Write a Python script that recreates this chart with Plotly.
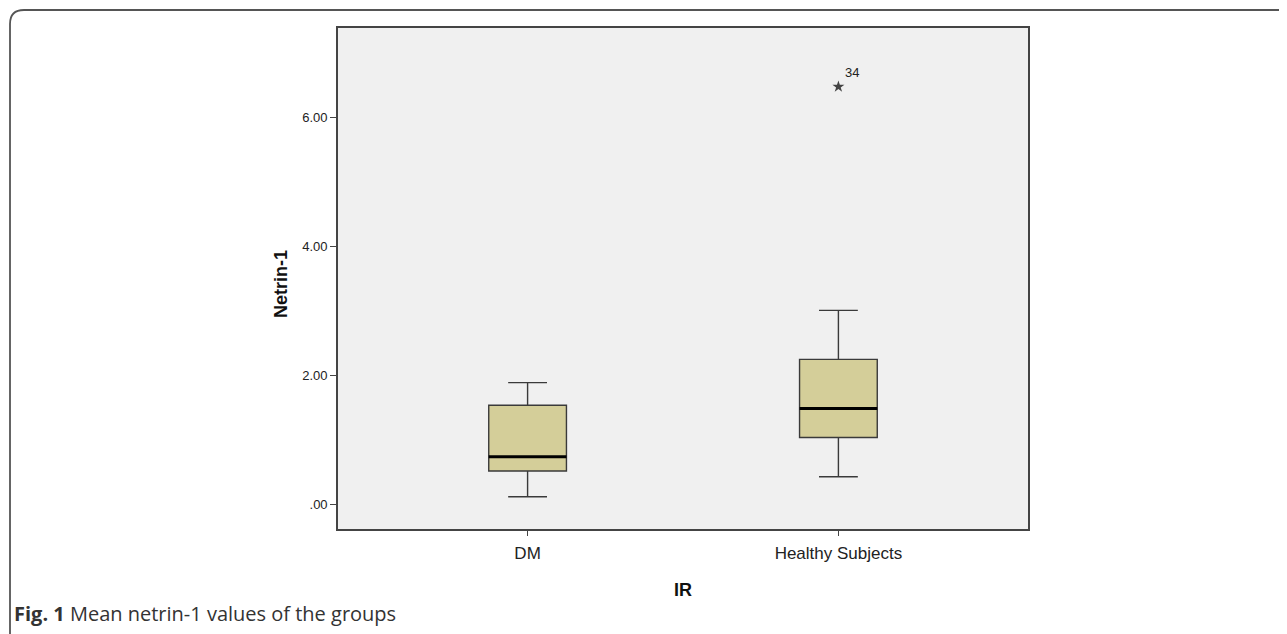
import plotly.graph_objects as go

# ---- data ----
categories = ["DM", "Healthy Subjects"]
q1 = [0.52, 1.04]
median = [0.74, 1.49]
q3 = [1.54, 2.25]
lower_whisker = [0.12, 0.43]
upper_whisker = [1.89, 3.01]
outlier_group = ["Healthy Subjects"]
outlier_value = [6.48]
outlier_label = ["34"]
y_tickvals = [0, 2, 4, 6]
y_ticktext = [".00", "2.00", "4.00", "6.00"]

# ---- layout geometry (target pixels; page body adds an 8px offset) ----
OFF = 8
W, H = 1287 - OFF, 634 - OFF
L, R, T, B = 338 - OFF, 1028 - OFF, 28 - OFF, 529 - OFF
pw, ph = R - L, B - T
BOX_W = 0.25
SANS = "Liberation Sans, Arial"

def px(X):
    return (X - OFF - L) / pw

def py(Y):
    return (B - (Y - OFF)) / ph

xpos = list(range(len(categories)))
fill = "rgb(212,206,153)"
edge = "#3a3a3a"

fig = go.Figure()
fig.add_trace(go.Box(
    x=xpos, q1=q1, median=median, q3=q3,
    lowerfence=lower_whisker, upperfence=upper_whisker,
    fillcolor=fill, line=dict(color=edge, width=1.4),
    width=BOX_W, whiskerwidth=0.5, boxpoints=False,
    hoverinfo="skip", showlegend=False,
))
for xi, m in zip(xpos, median):
    fig.add_trace(go.Scatter(
        x=[xi - BOX_W / 2, xi + BOX_W / 2], y=[m, m], mode="lines",
        line=dict(color="black", width=3), showlegend=False, hoverinfo="skip",
    ))
ox = [categories.index(g) for g in outlier_group]
fig.add_trace(go.Scatter(
    x=ox, y=outlier_value, mode="markers+text",
    marker=dict(symbol="star", size=9, color="#444", line=dict(width=0)),
    text=outlier_label, textposition="top right",
    textfont=dict(family=SANS, size=13, color="#222"),
    showlegend=False, hoverinfo="skip",
))

frame = (f"M {px(1287)},{py(10)} L {px(24)},{py(10)} "
         f"Q {px(10)},{py(10)} {px(10)},{py(24)} L {px(10)},{py(640)}")

fig.update_layout(
    width=W, height=H,
    margin=dict(l=L, r=W - R, t=T, b=H - B),
    paper_bgcolor="white", plot_bgcolor="#f0f0f0",
    font=dict(family=SANS, size=12, color="#222"),
    xaxis=dict(
        range=[-0.61, 1.61], tickvals=xpos, ticktext=categories,
        showgrid=False, zeroline=False, showline=True, mirror=True,
        linecolor="#444", linewidth=1.6, ticks="outside", ticklen=5,
        tickcolor="#444", tickwidth=1.3, ticklabelstandoff=3,
        tickfont=dict(family=SANS, size=17, color="#222"),
    ),
    yaxis=dict(
        range=[-0.38, 7.39], tickvals=y_tickvals, ticktext=y_ticktext,
        showgrid=False, zeroline=False, showline=True, mirror=True,
        linecolor="#444", linewidth=1.6, ticks="outside", ticklen=6,
        tickcolor="#444", tickwidth=1.3,
        tickfont=dict(family=SANS, size=13, color="#222"),
    ),
    shapes=[dict(type="path", xref="paper", yref="paper", path=frame,
                 line=dict(color="#555", width=1.8), layer="above")],
    annotations=[
        dict(xref="paper", yref="paper", x=px(683), y=py(590),
             xanchor="center", yanchor="middle", showarrow=False,
             text="<b>IR</b>", font=dict(family=SANS, size=18, color="#111")),
        dict(xref="paper", yref="paper", x=px(281), y=py(284),
             xanchor="center", yanchor="middle", showarrow=False, textangle=-90,
             text="<b>Netrin-1</b>", font=dict(family=SANS, size=18, color="#111")),
        dict(xref="paper", yref="paper", x=px(12), y=py(613),
             xanchor="left", yanchor="middle", showarrow=False,
             text="<b>Fig. 1</b> Mean netrin-1 values of the groups",
             font=dict(family="Open Sans", size=20, color="#333")),
    ],
)

fig.write_html("out.html")
